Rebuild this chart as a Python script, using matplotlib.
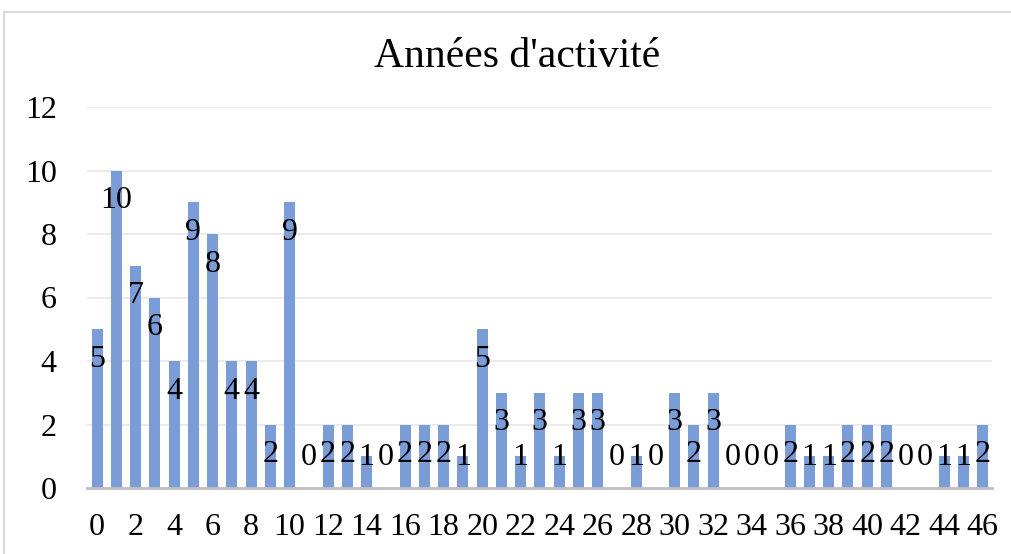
import matplotlib.pyplot as plt
from matplotlib.lines import Line2D

years = list(range(47))
counts = [5, 10, 7, 6, 4, 9, 8, 4, 4, 2, 9, 0, 2, 2, 1, 0, 2, 2, 2, 1,
          5, 3, 1, 3, 1, 3, 3, 0, 1, 0, 3, 2, 3, 0, 0, 0, 2, 1, 1, 2,
          2, 2, 0, 0, 1, 1, 2]
y_ticks = [0, 2, 4, 6, 8, 10, 12]
title = "Années d'activité"

plt.rcParams['font.family'] = ['Liberation Serif', 'DejaVu Serif']

fig = plt.figure(figsize=(10.12, 5.54), dpi=100)
ax = fig.add_axes([87.4 / 1012, 66 / 554, 905 / 1012, (488 - 107) / 554])

ax.bar(years, counts, width=0.57, color='#7b9dd7', zorder=2)

ax.set_xlim(-0.5, 46.5)
ax.set_ylim(0, 12)

# data labels sit inside the top of each bar, but never below a minimum height
offset = 0.95  # about 30 px in data units
for x, v in zip(years, counts):
    ax.text(x, max(v - offset, offset), str(v), ha='center', va='center',
            fontsize=23, color='black', zorder=3)

ax.set_xticks(years[::2])
ax.set_yticks(y_ticks)
ax.tick_params(axis='both', length=0, labelsize=23)
ax.tick_params(axis='x', pad=18)
ax.tick_params(axis='y', pad=22)
ax.yaxis.grid(True, color='#e8e8e8', linewidth=1.2, zorder=0)
ax.set_axisbelow(True)
for side in ['top', 'right', 'left']:
    ax.spines[side].set_visible(False)
ax.spines['bottom'].set_color('#c0c0c0')
ax.spines['bottom'].set_linewidth(2)
ax.spines['bottom'].set_zorder(4)

fig.text(517 / 1012, 1 - 57 / 554, title, ha='center', va='center', fontsize=30)

# chart frame (left and top edges visible in the reference)
fig.add_artist(Line2D([4 / 1012, 4 / 1012], [0, 1 - 12 / 554], color='#d9d9d9', linewidth=1.5))
fig.add_artist(Line2D([4 / 1012, 1], [1 - 12 / 554, 1 - 12 / 554], color='#d9d9d9', linewidth=1.5))

fig.savefig('out.png', dpi=100)
